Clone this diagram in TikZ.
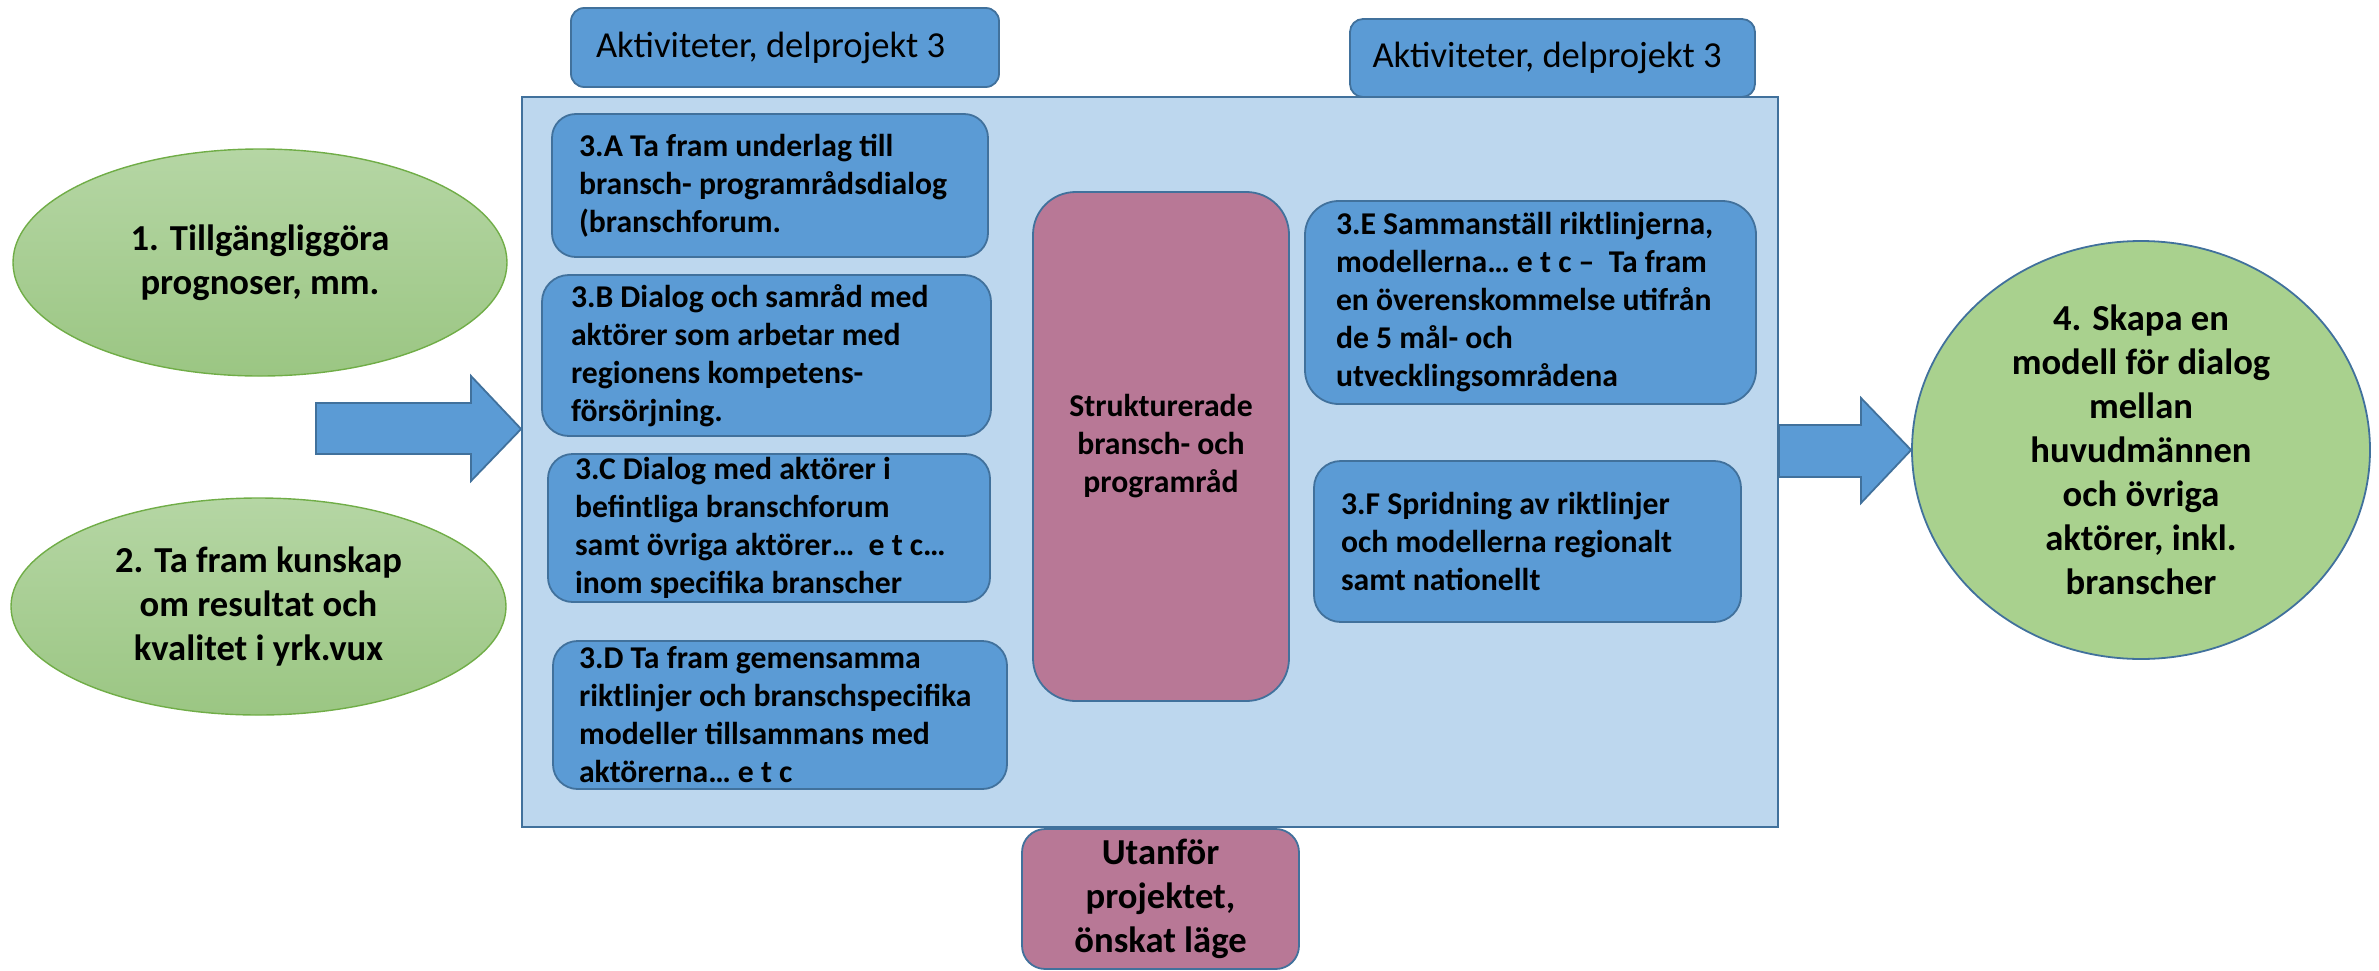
\documentclass[tikz,border=0pt]{standalone}
\usepackage{fontspec}
\setmainfont{Carlito}
\usetikzlibrary{shapes.geometric}
\definecolor{boxblue}{HTML}{5B9BD5}
\definecolor{edgeblue}{HTML}{41719C}
\definecolor{paleblue}{HTML}{BDD7EE}
\definecolor{pinkfill}{HTML}{B87896}
\definecolor{greenedge}{HTML}{70AD47}
\definecolor{greenlight}{HTML}{B5D6A4}
\definecolor{greendark}{HTML}{9BC683}
\definecolor{greenflat}{HTML}{A9D18E}
\begin{document}
\begin{tikzpicture}[x=0.5pt,y=-0.5pt,
  actbox/.style={rectangle, fill=boxblue, draw=edgeblue, line width=0.9pt,
    inner sep=0pt, align=flush left, font=\bfseries\fontsize{15.85pt}{19pt}\selectfont},
  headbox/.style={rectangle, fill=boxblue, draw=edgeblue, line width=0.9pt,
    inner sep=0pt, align=flush left, font=\fontsize{18.3pt}{22pt}\selectfont},
  pinkbox/.style={rectangle, fill=pinkfill, draw=edgeblue, line width=0.9pt,
    inner sep=0pt, align=center},
  goalshade/.style={ellipse, top color=greenlight, bottom color=greendark,
    draw=greenedge, line width=0.7pt, inner sep=0pt, align=center,
    font=\bfseries\fontsize{18.3pt}{22pt}\selectfont},
  goalflat/.style={ellipse, fill=greenflat, draw=edgeblue, line width=0.9pt,
    inner sep=0pt, align=center, font=\bfseries\fontsize{18.3pt}{22pt}\selectfont},
  blockarrow/.style={fill=boxblue, draw=edgeblue, line width=0.9pt, line join=miter}
]
\useasboundingbox (0,0) rectangle (2379,970);

% main frame
\node[rectangle, fill=paleblue, draw=edgeblue, line width=0.9pt,
  minimum width=628pt, minimum height=365pt, inner sep=0pt] (frame) at (1150,462) {};

% headings
\node[headbox, rounded corners=6.6pt, minimum width=214pt, minimum height=39.5pt,
  text width=189pt] (head1) at (785,47.5) {Aktiviteter, delprojekt 3};
\node[headbox, rounded corners=6.5pt, minimum width=202.5pt, minimum height=39pt,
  text width=180pt] (head2) at (1552.5,58) {Aktiviteter, delprojekt 3};

% activity boxes
\node[actbox, rounded corners=11.9pt, minimum width=218pt, minimum height=71.5pt,
  text width=191pt] (a) at (770,185.5)
  {3.A Ta fram underlag till\\bransch- programrådsdialog\\(branschforum.};
\node[actbox, rounded corners=13.4pt, minimum width=224.5pt, minimum height=80.5pt,
  text width=195.5pt] (b) at (766.5,355.5)
  {3.B Dialog och samråd med\\aktörer som arbetar med\\regionens kompetens-\\försörjning.};
\node[actbox, rounded corners=12.3pt, minimum width=221pt, minimum height=74pt,
  text width=194pt] (c) at (769,528)
  {3.C Dialog med aktörer i\\befintliga branschforum\\samt övriga aktörer…~ e t c…\\inom specifika branscher};
\node[actbox, rounded corners=12.3pt, minimum width=227pt, minimum height=74pt,
  text width=201pt] (d) at (780,715)
  {3.D Ta fram gemensamma\\riktlinjer och branschspecifika\\modeller tillsammans med\\aktörerna… e t c};
\node[actbox, rounded corners=16.9pt, minimum width=225.5pt, minimum height=101.5pt,
  text width=194.5pt] (e) at (1530.5,302.5)
  {3.E Sammanställ riktlinjerna,\\modellerna… e t c –~ Ta fram\\en överenskommelse utifrån\\de 5 mål- och\\utvecklingsområdena};
\node[actbox, rounded corners=13.4pt, minimum width=213.5pt, minimum height=80.5pt,
  text width=186.5pt] (f) at (1527.5,541.5)
  {3.F Spridning av riktlinjer\\och modellerna regionalt\\samt nationellt};

% pink boxes
\node[pinkbox, rounded corners=21.3pt, minimum width=128pt, minimum height=254.5pt,
  font=\bfseries\fontsize{15.85pt}{19pt}\selectfont] (struct) at (1161,446.5)
  {Strukturerade\\bransch- och\\programråd};
\node[pinkbox, rounded corners=11.6pt, minimum width=138.5pt, minimum height=70pt,
  font=\bfseries\fontsize{18.3pt}{22pt}\selectfont] (outside) at (1160.5,899)
  {Utanför\\projektet,\\önskat läge};

% block arrows
\coordinate (inTip) at (frame.west |- 0,429);
\draw[blockarrow] (316,403) -- (471,403) -- (471,376) -- (inTip)
  -- (471,481) -- (471,454) -- (316,454) -- cycle;

% goals
\node[goalshade, minimum width=247pt, minimum height=113.5pt] (g1) at (260,262.5)
  {1. Tillgängliggöra\\prognoser, mm.};
\node[goalshade, minimum width=247.5pt, minimum height=108.5pt] (g2) at (258.5,606.5)
  {2. Ta fram kunskap\\om resultat och\\kvalitet i yrk.vux};
\node[goalflat, minimum width=229pt, minimum height=209pt] (g4) at (2141,450)
  {4. Skapa en\\modell för dialog\\mellan\\huvudmännen\\och övriga\\aktörer, inkl.\\branscher};

\coordinate (outTip) at (g4.west);
\draw[blockarrow] (frame.east |- 0,425) -- (1861,425) -- (1861,398) -- (outTip)
  -- (1861,503) -- (1861,477) -- (frame.east |- 0,477) -- cycle;
\end{tikzpicture}
\end{document}
